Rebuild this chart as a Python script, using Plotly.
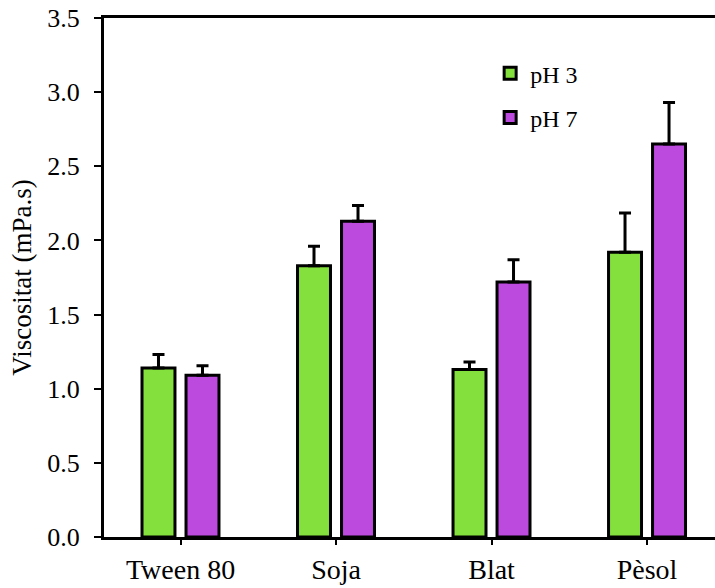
import plotly.graph_objects as go

# Emulsion viscosity by emulsifier and pH
categories = ["Tween 80", "Soja", "Blat", "Pèsol"]
ph3_values = [1.14, 1.83, 1.13, 1.92]
ph3_errors = [0.09, 0.13, 0.05, 0.265]
ph7_values = [1.09, 2.13, 1.72, 2.65]
ph7_errors = [0.065, 0.105, 0.15, 0.28]
y_ticks = [0.0, 0.5, 1.0, 1.5, 2.0, 2.5, 3.0, 3.5]

FONT = "Liberation Serif, Times New Roman, serif"
GREEN = "#84E03C"
PURPLE = "#BD4ADE"

fig = go.Figure()

for name, vals, errs, color, offset in [
    ("pH 3", ph3_values, ph3_errors, GREEN, -0.2476),
    ("pH 7", ph7_values, ph7_errors, PURPLE, 0.0354),
]:
    fig.add_trace(go.Bar(
        x=categories,
        y=vals,
        name=name,
        legendgroup=name,
        width=0.212,
        offset=offset,
        marker=dict(color=color, line=dict(color="black", width=3)),
        error_y=dict(type="data", array=errs, arrayminus=[0] * len(errs),
                     symmetric=False, color="black", thickness=3, width=6),
    ))

fig.update_layout(
    width=715,
    height=588,
    margin=dict(l=104, r=0, t=18, b=51),
    paper_bgcolor="white",
    plot_bgcolor="white",
    font=dict(family=FONT, size=26, color="black"),
    legend=dict(
        x=0.632, y=0.936, xanchor="left", yanchor="top",
        font=dict(family=FONT, size=24, color="black"),
        tracegroupgap=10, itemwidth=30,
        bgcolor="rgba(0,0,0,0)",
    ),
    showlegend=True,
)

fig.update_xaxes(
    type="category",
    range=[-0.492, 3.437],
    showline=True, linecolor="black", linewidth=3, mirror=True,
    ticks="outside", ticklen=5, tickwidth=2, tickcolor="black",
    showgrid=False, zeroline=False, automargin=False,
    tickfont=dict(family=FONT, size=28, color="black"),
)

fig.update_yaxes(
    range=[0, 3.5],
    tickvals=y_ticks,
    tickformat=".1f",
    showline=True, linecolor="black", linewidth=3, mirror=False,
    ticks="outside", ticklen=7, tickwidth=2, tickcolor="black",
    ticklabelstandoff=9,
    showgrid=False, zeroline=False, automargin=False,
    tickfont=dict(family=FONT, size=26, color="black"),
    title=dict(text="Viscositat (mPa.s)", font=dict(family=FONT, size=27, color="black"), standoff=8),
)

fig.write_html("out.html")
